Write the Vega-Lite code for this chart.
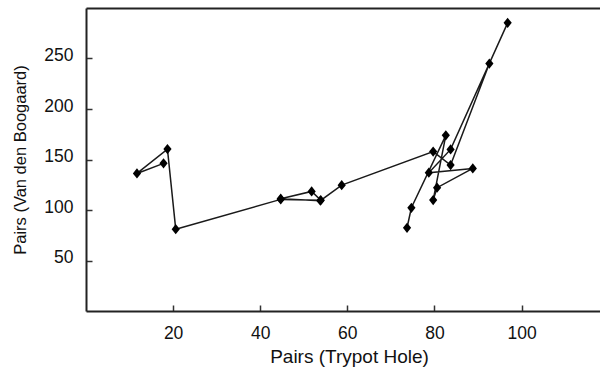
{
  "$schema": "https://vega.github.io/schema/vega-lite/v6.json",
  "autosize": {"type": "none"},
  "padding": {"left": 86, "top": 8, "right": 0, "bottom": 60},
  "width": 514,
  "height": 303,
  "background": "white",
  "config": {
    "view": {"stroke": null},
    "font": "Liberation Sans",
    "axis": {
      "grid": false,
      "domainColor": "#222",
      "domainWidth": 2,
      "tickColor": "#333",
      "tickWidth": 1.5,
      "tickSize": -6,
      "labelFontSize": 17.5,
      "labelColor": "#111",
      "labelFont": "Liberation Sans",
      "titleFont": "Liberation Sans",
      "titleFontWeight": "normal",
      "titleColor": "#111",
      "labelPadding": 19
    }
  },
  "datasets": {
    "series": [
      {"seq": 1, "trypot": 73.7, "boogaard": 82.4},
      {"seq": 2, "trypot": 74.7, "boogaard": 102.2},
      {"seq": 3, "trypot": 82.6, "boogaard": 173.9},
      {"seq": 4, "trypot": 79.7, "boogaard": 109.8},
      {"seq": 5, "trypot": 80.6, "boogaard": 122.1},
      {"seq": 6, "trypot": 88.8, "boogaard": 141.2},
      {"seq": 7, "trypot": 78.7, "boogaard": 136.9},
      {"seq": 8, "trypot": 83.7, "boogaard": 160.0},
      {"seq": 9, "trypot": 96.8, "boogaard": 285.3},
      {"seq": 10, "trypot": 92.6, "boogaard": 245.0},
      {"seq": 11, "trypot": 83.7, "boogaard": 144.5},
      {"seq": 12, "trypot": 79.7, "boogaard": 157.8},
      {"seq": 13, "trypot": 58.7, "boogaard": 124.6},
      {"seq": 14, "trypot": 53.8, "boogaard": 109.2},
      {"seq": 15, "trypot": 44.7, "boogaard": 111.2},
      {"seq": 16, "trypot": 51.8, "boogaard": 118.4},
      {"seq": 17, "trypot": 53.9, "boogaard": 109.7},
      {"seq": 18, "trypot": 44.7, "boogaard": 110.5},
      {"seq": 19, "trypot": 20.6, "boogaard": 81.0},
      {"seq": 20, "trypot": 18.7, "boogaard": 160.3},
      {"seq": 21, "trypot": 11.7, "boogaard": 136.2},
      {"seq": 22, "trypot": 17.8, "boogaard": 146.2}
    ]
  },
  "layer": [
    {
      "data": {"name": "series"},
      "mark": {"type": "line", "color": "#1a1a1a", "strokeWidth": 1.5},
      "encoding": {
        "x": {
          "field": "trypot",
          "type": "quantitative",
          "scale": {"domain": [0, 118], "nice": false, "zero": false},
          "axis": {
            "values": [20, 40, 60, 80, 100],
            "title": "Pairs (Trypot Hole)",
            "titleFontSize": 19,
            "titlePadding": 6,
            "titleX": 263
          }
        },
        "y": {
          "field": "boogaard",
          "type": "quantitative",
          "scale": {"domain": [0, 300], "nice": false, "zero": false},
          "axis": {
            "values": [50, 100, 150, 200, 250],
            "title": "Pairs (Van den Boogaard)",
            "titleFontSize": 16.5,
            "titlePadding": 15,
            "labelOffset": -3
          }
        },
        "order": {"field": "seq", "type": "quantitative"}
      }
    },
    {
      "data": {"name": "series"},
      "mark": {"type": "point", "shape": "M0,-1L0.8,0L0,1L-0.8,0Z", "filled": true, "color": "#000", "size": 105, "opacity": 1},
      "encoding": {
        "x": {"field": "trypot", "type": "quantitative", "axis": null},
        "y": {"field": "boogaard", "type": "quantitative"}
      }
    },
    {
      "mark": {"type": "text", "fontSize": 18.5, "color": "#111", "font": "Liberation Sans"},
      "encoding": {
        "x": {"datum": 63, "type": "quantitative", "axis": {"orient": "top", "labels": false, "ticks": false, "title": null, "domain": true}},
        "y": {"datum": 154, "type": "quantitative"},
        "text": {"value": "1995/96"}
      }
    }
  ],
  "resolve": {"axis": {"x": "independent"}}
}
